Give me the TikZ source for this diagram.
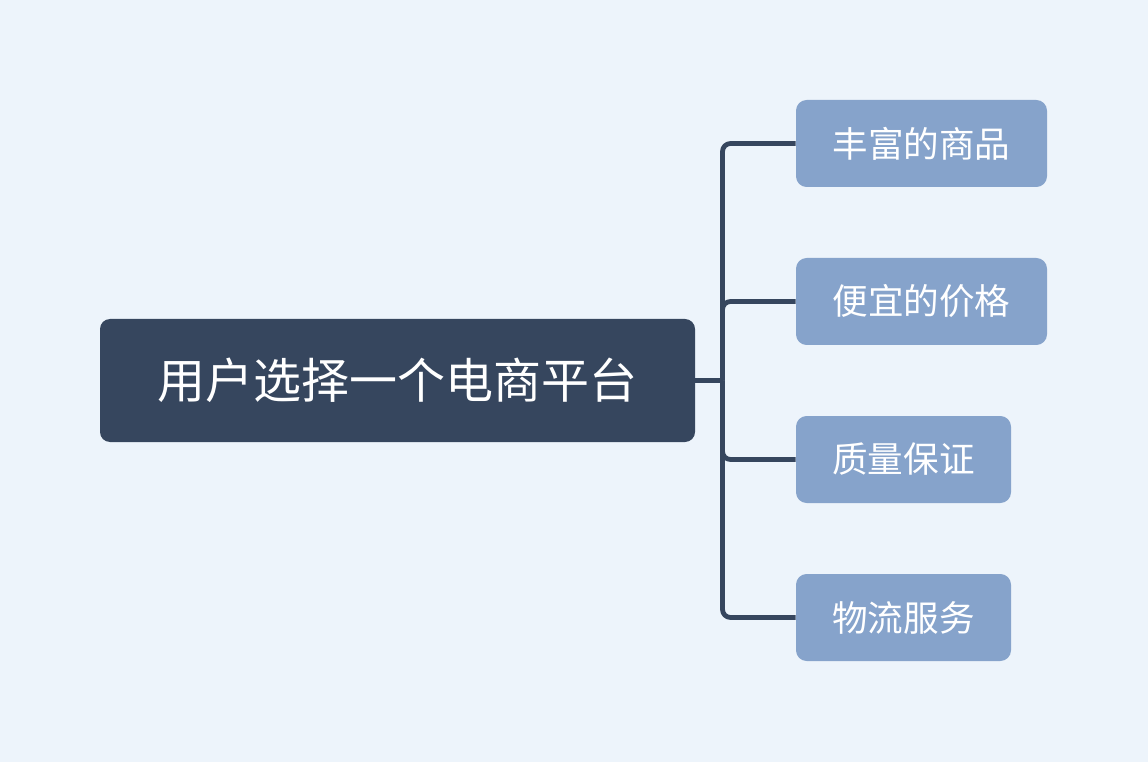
\documentclass[tikz,border=0pt]{standalone}
\usepackage{fontspec}
\setmainfont{Noto Sans CJK SC}
\definecolor{bgc}{HTML}{EDF4FB}
\definecolor{rootc}{HTML}{36465E}
\definecolor{childc}{HTML}{86A3CB}
\begin{document}
\begin{tikzpicture}[x=0.75pt,y=-0.75pt,
  rootbox/.style={fill=rootc, rounded corners=7.5pt, minimum width=446.25pt, minimum height=92.25pt, inner sep=0pt, text=white, font=\fontsize{36}{40}\selectfont},
  childbox/.style={fill=childc, rounded corners=8pt, minimum height=65.25pt, inner sep=0pt, text=white, font=\fontsize{26.7}{30}\selectfont},
  conn/.style={draw=rootc, line width=3.6pt, rounded corners=6pt}]
\fill[bgc] (0,0) rectangle (1148,762);
\useasboundingbox (0,0) rectangle (1148,762);
\node[rootbox] (root) at (397.5,380.5) {用户选择一个电商平台};
\node[childbox, minimum width=188.25pt] (c1) at (921.5,143.5) {丰富的商品};
\node[childbox, minimum width=188.25pt] (c2) at (921.5,301.5) {便宜的价格};
\node[childbox, minimum width=161.25pt] (c3) at (903.5,459.5) {质量保证};
\node[childbox, minimum width=161.25pt] (c4) at (903.5,617.5) {物流服务};
\coordinate (j) at (722.5,380.5);
\draw[conn] (root.east) -- (j);
\draw[conn] (j) |- (c1.west);
\draw[conn] (j) |- (c2.west);
\draw[conn] (j) |- (c3.west);
\draw[conn] (j) |- (c4.west);
\end{tikzpicture}
\end{document}
